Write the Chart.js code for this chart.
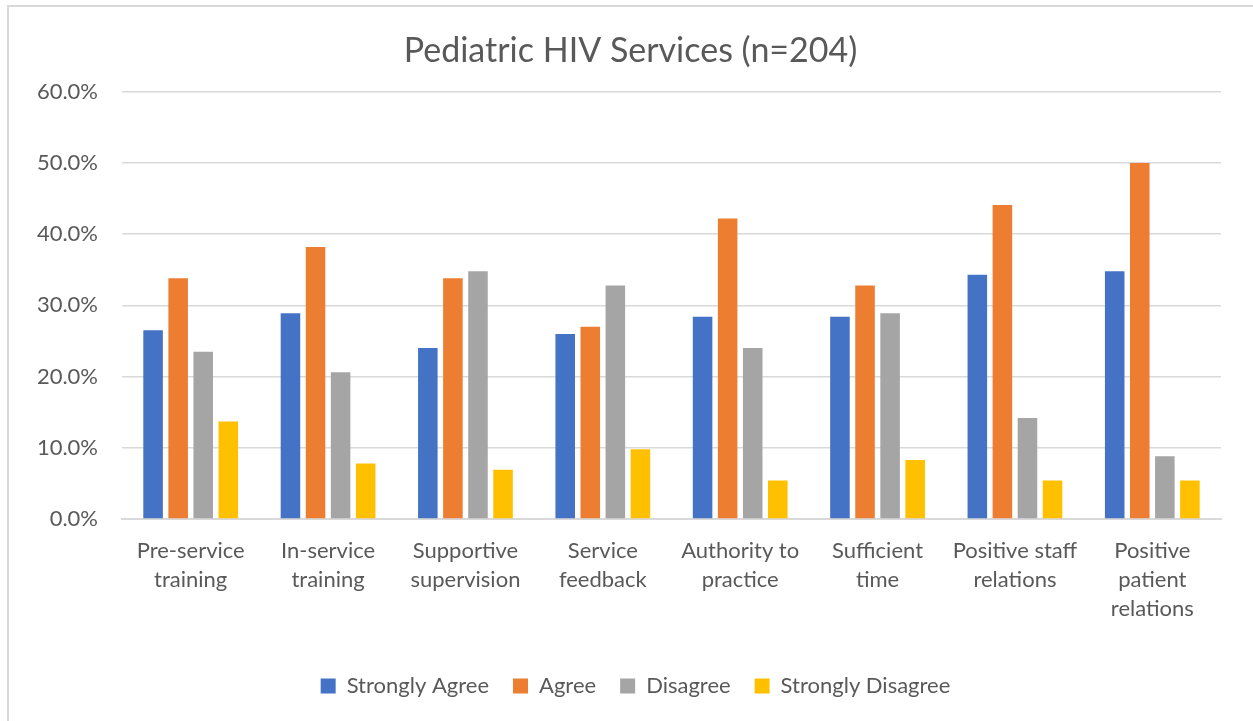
<!DOCTYPE html>
<html>
<head>
<meta charset="utf-8">
<script src="https://cdn.jsdelivr.net/npm/chart.js@4"></script>
<style>
  html, body { margin: 0; padding: 0; background: #fff; }
  #wrap { position: relative; width: 1253px; height: 721px; overflow: hidden; }
  #frame { position: absolute; left: 7px; top: 5px; width: 1260px; height: 730px; border: 2px solid #d9d9d9; box-sizing: border-box; }
  canvas { position: absolute; left: 0; top: 0; }
</style>
</head>
<body>
<div id="wrap">
  <div id="frame"></div>
  <canvas id="plotCanvas" width="1253" height="721"></canvas>
</div>
<script>
// Categories (multi-line labels as in the picture)
const categories = [
  ["Pre-service", "training"],
  ["In-service", "training"],
  ["Supportive", "supervision"],
  ["Service", "feedback"],
  ["Authority to", "practice"],
  ["Sufficient", "time"],
  ["Positive staff", "relations"],
  ["Positive", "patient", "relations"]
];

// Percent of respondents (n=204)
const stronglyAgree    = [26.5, 28.9, 24.0, 26.0, 28.4, 28.4, 34.3, 34.8];
const agree            = [33.8, 38.2, 33.8, 27.0, 42.2, 32.8, 44.1, 50.0];
const disagree         = [23.5, 20.6, 34.8, 32.8, 24.0, 28.9, 14.2, 8.8];
const stronglyDisagree = [13.7, 7.8, 6.9, 9.8, 5.4, 8.3, 5.4, 5.4];

const yTicks = [0, 10, 20, 30, 40, 50, 60];

const FONT = "Lato, 'Liberation Sans', sans-serif";
const TEXT = "#595959";

// Title and legend are centred on the outer frame, not the plot: nudge them right
const centreOnFrame = {
  id: "centreOnFrame",
  afterLayout(chart) {
    chart.titleBlock.left += 40;
    chart.legend.left += 50;
  }
};

const ctx = document.getElementById("plotCanvas").getContext("2d");
const chart = new Chart(ctx, {
  type: "bar",
  data: {
    labels: categories,
    datasets: [
      { label: "Strongly Agree",    data: stronglyAgree,    backgroundColor: "#4472C4" },
      { label: "Agree",             data: agree,            backgroundColor: "#ED7D31" },
      { label: "Disagree",          data: disagree,         backgroundColor: "#A5A5A5" },
      { label: "Strongly Disagree", data: stronglyDisagree, backgroundColor: "#FFC000" }
    ]
  },
  plugins: [centreOnFrame],
  options: {
    responsive: false,
    animation: false,
    categoryPercentage: 0.73,
    barPercentage: 0.78,
    layout: { padding: { left: 0, right: 32, top: 0, bottom: 14 } },
    plugins: {
      title: {
        display: true,
        text: "Pediatric HIV Services (n=204)",
        color: TEXT,
        font: { family: FONT, size: 34, weight: "normal" },
        padding: { top: 31, bottom: 20 }
      },
      legend: {
        position: "bottom",
        labels: {
          color: TEXT,
          font: { family: FONT, size: 22 },
          boxWidth: 15,
          boxHeight: 15,
          padding: 24
        }
      },
      tooltip: { enabled: false }
    },
    scales: {
      x: {
        grid: { display: false },
        border: { color: "#d9d9d9", width: 2 },
        ticks: {
          color: TEXT,
          font: { family: FONT, size: 22, lineHeight: 1.32 },
          maxRotation: 0,
          autoSkip: false,
          padding: 9
        },
        afterFit: s => { s.height = 132; }
      },
      y: {
        min: 0,
        max: 60,
        grid: { color: "#d9d9d9", lineWidth: 1.5, drawTicks: false },
        border: { display: false },
        afterBuildTicks: s => { s.ticks = yTicks.map(v => ({ value: v })); },
        ticks: {
          color: TEXT,
          font: { family: FONT, size: 22 },
          padding: 24,
          callback: v => v.toFixed(1) + "%"
        },
        afterFit: s => { s.width = 122; }
      }
    }
  }
});
</script>
</body>
</html>
